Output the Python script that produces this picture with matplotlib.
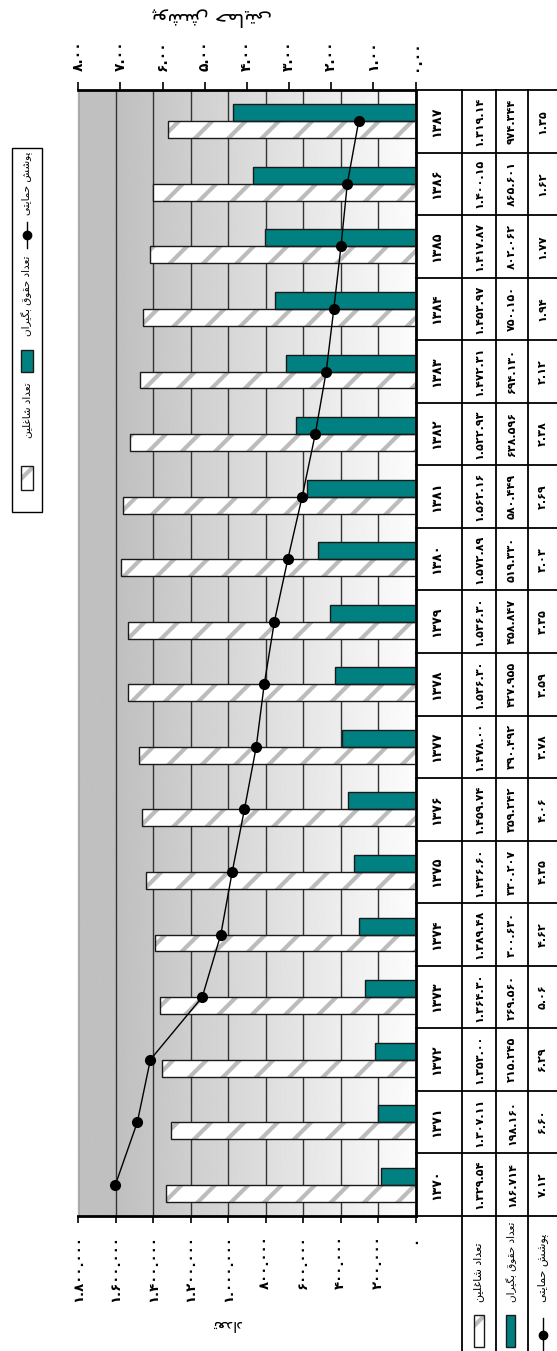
import numpy as np
import matplotlib
matplotlib.use('Agg')
import matplotlib.pyplot as plt
from matplotlib.patches import Rectangle
from matplotlib.lines import Line2D

plt.rcParams['font.family'] = ['DejaVu Sans']
plt.rcParams['hatch.linewidth'] = 3.0

# data, 1370 -> 1387
years = [1370, 1371, 1372, 1373, 1374, 1375, 1376, 1377, 1378,
         1379, 1380, 1381, 1382, 1383, 1384, 1385, 1386, 1387]
employed = [1329540, 1307110, 1353000, 1364300, 1389480, 1436600, 1459740, 1478000, 1536300,
            1536300, 1572890, 1562160, 1522930, 1472310, 1453970, 1417870, 1400150, 1319140]
pensioners = [186714, 198160, 215245, 269560, 300630, 330207, 359242, 390492, 427955,
              458847, 519330, 580449, 638596, 694130, 750150, 802062, 865601, 974344]
coverage = [7.12, 6.60, 6.29, 5.06, 4.62, 4.35, 4.06, 3.78, 3.59,
            3.35, 3.03, 2.69, 2.38, 2.12, 1.94, 1.77, 1.62, 1.35]

employed_txt = ['1.329.54', '1.307.11', '1.353.00', '1.364.30', '1.389.48', '1.436.60',
                '1.459.74', '1.478.00', '1.536.30', '1.536.30', '1.572.89', '1.562.16',
                '1.522.93', '1.472.31', '1.453.97', '1.417.87', '1.400.15', '1.319.14']
pensioners_txt = ['186.714', '198.160', '215.245', '269.560', '300.630', '330.207',
                  '359.242', '390.492', '427.955', '458.847', '519.330', '580.449',
                  '638.596', '694.130', '750.150', '802.062', '865.601', '974.344']
coverage_txt = ['7.12', '6.60', '6.29', '5.06', '4.62', '4.35', '4.06', '3.78', '3.59',
                '3.35', '3.03', '2.69', '2.38', '2.12', '1.94', '1.77', '1.62', '1.35']

count_ticks = [0, 200000, 400000, 600000, 800000, 1000000, 1200000, 1400000, 1600000, 1800000]
count_tick_labels = ['0', '200.000', '400.000', '600.000', '800.000', '1.000.000',
                     '1.200.000', '1.400.000', '1.600.000', '1.800.000']
pct_ticks = [0, 1, 2, 3, 4, 5, 6, 7, 8]
pct_tick_labels = ['0.00', '1.00', '2.00', '3.00', '4.00', '5.00', '6.00', '7.00', '8.00']

lbl_emp = 'تعداد شاغلین'
lbl_pen = 'تعداد حقوق بگیران'
lbl_cov = 'پوشش حمایتی'
lbl_count = 'تعداد'

TEAL = '#008080'

# matplotlib has no arabic shaping, so pick presentation forms by hand
# (isolated, final, initial, medial)
FORMS = {
    'ا': ('\uFE8D', '\uFE8E', None, None),
    'د': ('\uFEA9', '\uFEAA', None, None),
    'ر': ('\uFEAD', '\uFEAE', None, None),
    'و': ('\uFEED', '\uFEEE', None, None),
    'ب': ('\uFE8F', '\uFE90', '\uFE91', '\uFE92'),
    'ت': ('\uFE95', '\uFE96', '\uFE97', '\uFE98'),
    'ح': ('\uFEA1', '\uFEA2', '\uFEA3', '\uFEA4'),
    'ش': ('\uFEB5', '\uFEB6', '\uFEB7', '\uFEB8'),
    'ع': ('\uFEC9', '\uFECA', '\uFECB', '\uFECC'),
    'غ': ('\uFECD', '\uFECE', '\uFECF', '\uFED0'),
    'ق': ('\uFED5', '\uFED6', '\uFED7', '\uFED8'),
    'ل': ('\uFEDD', '\uFEDE', '\uFEDF', '\uFEE0'),
    'م': ('\uFEE1', '\uFEE2', '\uFEE3', '\uFEE4'),
    'ن': ('\uFEE5', '\uFEE6', '\uFEE7', '\uFEE8'),
    'ی': ('\uFBFC', '\uFBFD', '\uFBFE', '\uFBFF'),
    'پ': ('\uFB56', '\uFB57', '\uFB58', '\uFB59'),
    'گ': ('\uFB92', '\uFB93', '\uFB94', '\uFB95'),
}


def shape(s):
    out = []
    for i, c in enumerate(s):
        if c not in FORMS:
            out.append(c)
            continue
        prev = s[i - 1] if i > 0 else ''
        nxt = s[i + 1] if i + 1 < len(s) else ''
        jp = prev in FORMS and FORMS[prev][2] is not None
        jn = FORMS[c][2] is not None and nxt in FORMS
        iso, fin, ini, med = FORMS[c]
        if jp and jn:
            out.append(med)
        elif jp:
            out.append(fin)
        elif jn:
            out.append(ini)
        else:
            out.append(iso)
    return ''.join(out)[::-1]


def fa(s):
    return s.translate(str.maketrans('0123456789', '۰۱۲۳۴۵۶۷۸۹'))


# layout in pixels of the 557x1351 picture
W, H = 557, 1351
PL, PR, PT, PB = 78.3, 415.6, 90, 1216
cols = [PR, 462, 496, 528, W]

fig = plt.figure(figsize=(W / 100, H / 100), dpi=100)

ax = fig.add_axes([PL / W, 1 - PB / H, (PR - PL) / W, (PB - PT) / H])
y = np.arange(len(years))

xs = np.linspace(1.8e6, 0, 400)
grad = np.interp(xs, [0, 1.6e6], [0.99, 0.75])
ax.imshow(grad[None, :], extent=[1.8e6, 0, -0.5, 17.5], aspect='auto', cmap='gray',
          vmin=0, vmax=1, zorder=0, interpolation='bilinear')

ax.barh(y - 0.135, employed, height=0.27, color='white', edgecolor='#bcbcbc',
        hatch='/', linewidth=0, zorder=2)
ax.barh(y - 0.135, employed, height=0.27, fill=False, edgecolor='#1a1a1a', linewidth=1, zorder=3)
ax.barh(y + 0.135, pensioners, height=0.27, color=TEAL, edgecolor='#1a1a1a', linewidth=1, zorder=2)

ax.set_xlim(1.8e6, 0)
ax.set_ylim(-0.5, 17.5)
ax.set_axisbelow(True)
ax.grid(axis='x', color='#333333', linewidth=1)
ax.set_xticks(count_ticks)
ax.set_xticklabels([fa(s) for s in count_tick_labels], rotation=90, fontsize=9.5,
                   fontweight='bold')
ax.tick_params(axis='x', direction='out', length=5, width=1.2, pad=9)
ax.tick_params(axis='y', left=False, labelleft=False)
ax.spines['top'].set_visible(False)
ax.spines['left'].set_color('#b0b0b0')
ax.spines['left'].set_linewidth(1)
ax.spines['right'].set_linewidth(2)
ax.spines['bottom'].set_linewidth(2)

ax2 = ax.twiny()
ax2.plot(coverage, y, color='black', linewidth=1, marker='o', markersize=7, zorder=4)
ax2.set_xlim(8, 0)
ax2.set_xticks(pct_ticks)
ax2.set_xticklabels([fa(s) for s in pct_tick_labels], rotation=90, fontsize=10,
                    fontweight='bold')
ax2.tick_params(axis='x', direction='out', length=6, width=1.2, pad=8)
for side in ['left', 'right', 'bottom']:
    ax2.spines[side].set_visible(False)
ax2.spines['top'].set_linewidth(2)

# data table on the right
ylo = 17.5 - (H - PT) * 18 / (PB - PT)
tax = fig.add_axes([PR / W, 0, (W - PR) / W, 1 - PT / H])
tax.set_xlim(PR, W)
tax.set_ylim(ylo, 17.5)
tax.axis('off')
for k in range(len(years) + 1):
    tax.plot([PR, W], [k - 0.5, k - 0.5], color='black', linewidth=1.3, clip_on=False)
for cx in cols[1:4]:
    tax.plot([cx, cx], [ylo, 17.5], color='black', linewidth=1.3, clip_on=False)

centers = [(cols[i] + cols[i + 1]) / 2 for i in range(4)]
for i, yr in enumerate(years):
    tax.text(centers[0] - 2, i, fa(str(yr)), rotation=90, ha='center', va='center',
             fontsize=9, fontweight='bold')
    tax.text(centers[1], i, fa(employed_txt[i]), rotation=90, ha='center', va='center',
             fontsize=8, fontweight='bold')
    tax.text(centers[2], i, fa(pensioners_txt[i]), rotation=90, ha='center', va='center',
             fontsize=8, fontweight='bold')
    tax.text(centers[3], i, fa(coverage_txt[i]), rotation=90, ha='center', va='center',
             fontsize=8, fontweight='bold')

# overlay in pixel coordinates: legend, titles, table row headers
ov = fig.add_axes([0, 0, 1, 1])
ov.set_xlim(0, W)
ov.set_ylim(H, 0)
ov.axis('off')


def hatch_key(x, y0, w, h):
    ov.add_patch(Rectangle((x, y0), w, h, facecolor='white', edgecolor='#bcbcbc',
                           hatch='/', linewidth=0))
    ov.add_patch(Rectangle((x, y0), w, h, fill=False, edgecolor='#1a1a1a', linewidth=1))


def teal_key(x, y0, w, h):
    ov.add_patch(Rectangle((x, y0), w, h, facecolor=TEAL, edgecolor='#1a1a1a', linewidth=1))


def line_key(x, y0, y1):
    ov.add_line(Line2D([x, x], [y0, y1], color='black', linewidth=1))
    ov.add_line(Line2D([x], [(y0 + y1) / 2], color='black', marker='o', markersize=6))


# row headers of the table
ov.text(centers[1], 1302, shape(lbl_emp), rotation=90, ha='center', va='bottom', fontsize=8)
ov.text(centers[2], 1302, shape(lbl_pen), rotation=90, ha='center', va='bottom', fontsize=7.5)
ov.text(centers[3], 1302, shape(lbl_cov), rotation=90, ha='center', va='bottom', fontsize=8)
hatch_key(474, 1315, 10, 32)
teal_key(506, 1315, 9, 32)
line_key(543, 1318, 1351)

# legend box
ov.add_patch(Rectangle((12, 148), 30, 364, facecolor='white', edgecolor='black', linewidth=1))
ov.text(27, 152, shape(lbl_cov), rotation=90, ha='center', va='top', fontsize=7.5)
line_key(27, 222, 248)
ov.text(27, 256, shape(lbl_pen), rotation=90, ha='center', va='top', fontsize=7.5)
teal_key(21, 350, 12, 22)
ov.text(27, 382, shape(lbl_emp), rotation=90, ha='center', va='top', fontsize=7.5)
hatch_key(21, 466, 12, 24)

# axis titles
ov.text(212, 17, shape(lbl_cov), rotation=180, ha='center', va='center', fontsize=14)
ov.text(227, 1325, shape(lbl_count), rotation=180, ha='center', va='center', fontsize=11)

fig.savefig('out.png', dpi=100)
